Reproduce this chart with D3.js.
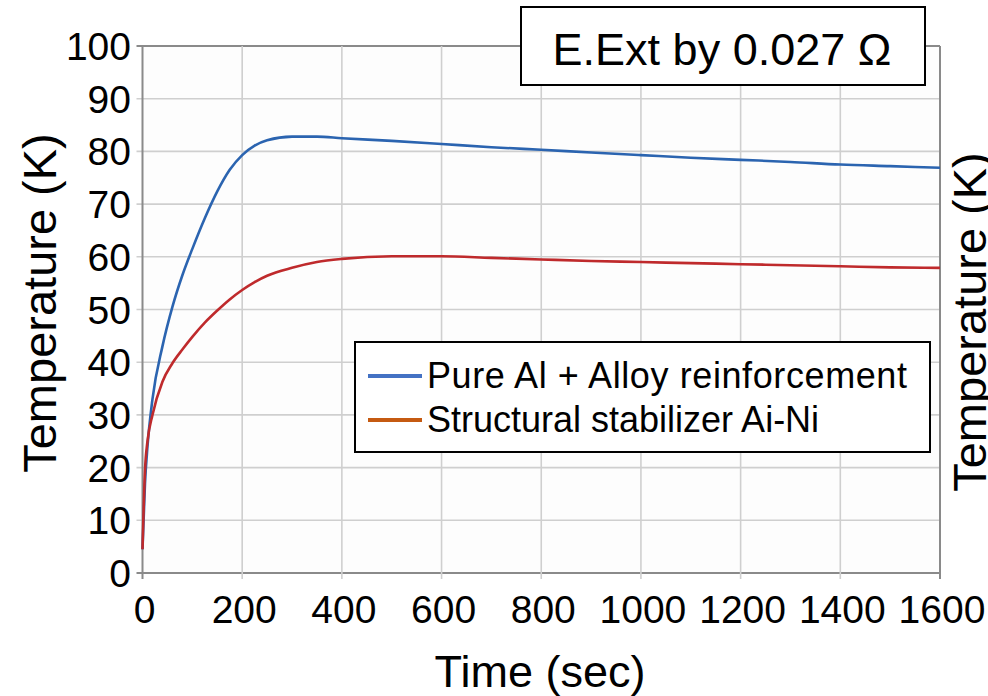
<!DOCTYPE html>
<html>
<head>
<meta charset="utf-8">
<script src="https://cdn.jsdelivr.net/npm/d3@7"></script>
<style>
  body { margin: 0; background: #fff; }
  text { font-family: "Liberation Sans", Arial, sans-serif; fill: #000; }
</style>
</head>
<body>
<svg id="chart" width="988" height="696"></svg>
<script>
// time axis samples (sec)
var times = [0, 5, 10, 20, 40, 60, 80, 100, 125, 150, 175, 200, 225, 250, 300, 350, 400, 500, 600, 700, 800, 900, 1000, 1100, 1200, 1300, 1400, 1500, 1600];
// Pure Al + Alloy reinforcement (K)
var blueTemps = [4.5, 17, 24, 33, 43, 50.5, 56.5, 61.5, 67.3, 72.4, 76.5, 79.3, 81.1, 82.1, 82.8, 82.8, 82.5, 82.0, 81.4, 80.8, 80.3, 79.8, 79.3, 78.8, 78.4, 78.0, 77.5, 77.2, 76.9];
// Structural stabilizer Ai-Ni (K)
var redTemps = [4.5, 19.5, 25, 30, 36.3, 39.8, 42.4, 44.8, 47.5, 49.8, 51.9, 53.7, 55.2, 56.4, 57.9, 59.0, 59.6, 60.1, 60.1, 59.8, 59.5, 59.2, 59.0, 58.8, 58.6, 58.4, 58.2, 58.0, 57.9];

var xTicks = [0, 200, 400, 600, 800, 1000, 1200, 1400, 1600];
var yTicks = [0, 10, 20, 30, 40, 50, 60, 70, 80, 90, 100];
var seriesNames = ["Pure Al + Alloy reinforcement", "Structural stabilizer Ai-Ni"];
var lineColors = ["#2b64b0", "#bf2a2c"];
var legendColors = ["#4472c4", "#c55a11"];

var svg = d3.select("#chart");

var plot_left = 142.5, plot_right = 940, plot_top = 46, plot_bottom = 573;

var x = d3.scaleLinear().domain([0, 1600]).range([plot_left, plot_right]);
var y = d3.scaleLinear().domain([0, 100]).range([plot_bottom, plot_top]);

// plot background
svg.append("rect")
    .attr("x", plot_left).attr("y", plot_top)
    .attr("width", plot_right - plot_left).attr("height", plot_bottom - plot_top)
    .attr("fill", "#fdfdfd");

// grid lines
svg.selectAll(".hgrid")
    .data(yTicks)
    .enter().append("line")
    .attr("class", "hgrid")
    .attr("x1", plot_left - 6).attr("x2", plot_right)
    .attr("y1", function(d) { return y(d); })
    .attr("y2", function(d) { return y(d); })
    .attr("stroke", function(d) { return d == 0 || d == 100 ? "#8a8a8a" : "#cfcfcf"; })
    .attr("stroke-width", function(d) { return d == 0 || d == 100 ? 2 : 1.6; });

svg.selectAll(".vgrid")
    .data(xTicks)
    .enter().append("line")
    .attr("class", "vgrid")
    .attr("y1", plot_top).attr("y2", plot_bottom + 6)
    .attr("x1", function(d) { return x(d); })
    .attr("x2", function(d) { return x(d); })
    .attr("stroke", function(d) { return d == 0 || d == 1600 ? "#8a8a8a" : "#cfcfcf"; })
    .attr("stroke-width", function(d) { return d == 0 || d == 1600 ? 2 : 1.6; });

// tick labels
svg.selectAll(".ylab")
    .data(yTicks)
    .enter().append("text")
    .attr("class", "ylab")
    .attr("x", 131)
    .attr("y", function(d) { return y(d) + 14; })
    .attr("text-anchor", "end")
    .attr("font-size", 39)
    .text(function(d) { return d; });

svg.selectAll(".xlab")
    .data(xTicks)
    .enter().append("text")
    .attr("class", "xlab")
    .attr("x", function(d) { return x(d) + 2; })
    .attr("y", 623)
    .attr("text-anchor", "middle")
    .attr("font-size", 39)
    .text(function(d) { return d; });

// axis titles
svg.append("text")
    .attr("x", 540).attr("y", 687)
    .attr("text-anchor", "middle")
    .attr("font-size", 45)
    .text("Time (sec)");

svg.append("text")
    .attr("transform", "translate(56,303) rotate(-90)")
    .attr("text-anchor", "middle")
    .attr("font-size", 47)
    .text("Temperature (K)");

// clipped secondary axis title at the right edge
svg.append("text")
    .attr("transform", "translate(986,322) rotate(-90)")
    .attr("text-anchor", "middle")
    .attr("font-size", 47)
    .text("Temperature (K)");

// curves
var line = d3.line()
    .x(function(d) { return x(d[0]); })
    .y(function(d) { return y(d[1]); })
    .curve(d3.curveMonotoneX);

[blueTemps, redTemps].forEach(function(vals, i) {
    svg.append("path")
        .datum(times.map(function(t, j) { return [t, vals[j]]; }))
        .attr("d", line)
        .attr("fill", "none")
        .attr("stroke", lineColors[i])
        .attr("stroke-width", 2.6);
});

// title box
svg.append("rect")
    .attr("x", 521).attr("y", 7)
    .attr("width", 404).attr("height", 78)
    .attr("fill", "#fff")
    .attr("stroke", "#000")
    .attr("stroke-width", 2);

svg.append("text")
    .attr("x", 722).attr("y", 65)
    .attr("text-anchor", "middle")
    .attr("font-size", 45)
    .text("E.Ext by 0.027 \u03A9");

// legend
svg.append("rect")
    .attr("x", 355).attr("y", 342)
    .attr("width", 575).attr("height", 110)
    .attr("fill", "#fff")
    .attr("stroke", "#000")
    .attr("stroke-width", 2);

var legend = svg.selectAll(".legend_item")
    .data(seriesNames)
    .enter().append("g")
    .attr("class", "legend_item")
    .attr("transform", function(d, i) { return "translate(0," + (i * 44) + ")"; });

legend.append("line")
    .attr("x1", 368).attr("x2", 422)
    .attr("y1", 376).attr("y2", 376)
    .attr("stroke", function(d, i) { return legendColors[i]; })
    .attr("stroke-width", 4);

legend.append("text")
    .attr("x", 427).attr("y", 388)
    .attr("font-size", 36)
    .attr("textLength", function(d, i) { return i == 0 ? 480 : null; })
    .text(function(d) { return d; });
</script>
</body>
</html>
